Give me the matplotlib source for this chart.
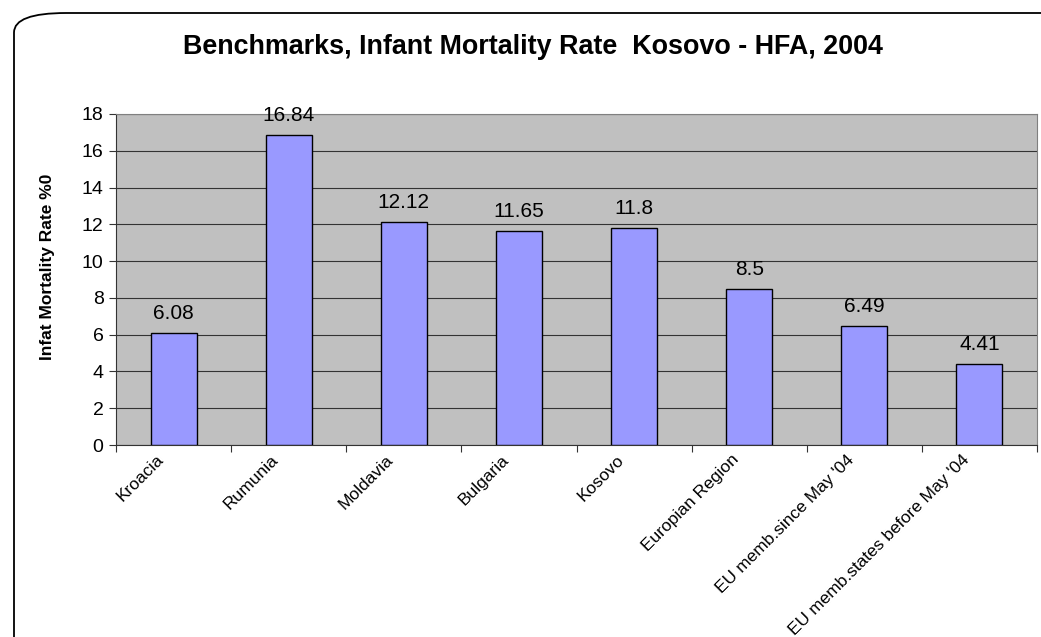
import matplotlib.pyplot as plt
import matplotlib.transforms as mtransforms
from matplotlib.patches import FancyBboxPatch

categories = ['Kroacia', 'Rumunia', 'Moldavia', 'Bulgaria', 'Kosovo',
              'Europian Region', "EU memb.since May '04",
              "EU memb.states before May '04"]
values = [6.08, 16.84, 12.12, 11.65, 11.8, 8.5, 6.49, 4.41]
value_labels = ['6.08', '16.84', '12.12', '11.65', '11.8', '8.5', '6.49', '4.41']

plt.rcParams['font.family'] = ['Liberation Sans', 'DejaVu Sans']

fig = plt.figure(figsize=(10.41, 6.37), dpi=100)

# rounded frame around the chart
frame = FancyBboxPatch((14 / 1041, -0.2), 1.2, 1 - 13 / 637 + 0.2,
                       boxstyle='round,pad=0,rounding_size=0.05',
                       transform=fig.transFigure, fill=False,
                       edgecolor='black', linewidth=1.3,
                       mutation_aspect=637 / 1041)
fig.patches.append(frame)

ax = fig.add_axes([116 / 1041, 1 - 445 / 637, (1037 - 116) / 1041, (445 - 114) / 637])
ax.set_facecolor('#C0C0C0')

x = range(len(categories))
ax.bar(x, values, width=0.4, color='#9999FF', edgecolor='black', linewidth=1, zorder=3)
for i, v in enumerate(values):
    ax.text(i, v + 0.55, value_labels[i], ha='center', va='bottom', fontsize=15, zorder=4)

ax.set_ylim(0, 18)
ax.set_xlim(-0.5, len(categories) - 0.5)
ax.set_yticks(range(0, 19, 2))
ax.yaxis.grid(True, color='#333333', linewidth=0.8, zorder=0)
ax.set_axisbelow(True)

ax.set_xticks([i + 0.5 for i in range(-1, len(categories))], minor=False)
ax.set_xticklabels([])
ax.tick_params(axis='x', length=5, direction='out', color='#333333')
ax.set_xticks(list(x), minor=True)
ax.set_xticklabels(categories, minor=True, rotation=45, ha='right',
                   rotation_mode='anchor', fontsize=12.5)
ax.tick_params(axis='x', which='minor', length=0, pad=5)
shift = mtransforms.ScaledTranslation(-18 / 100, 0, fig.dpi_scale_trans)
for lab in ax.xaxis.get_minorticklabels():
    lab.set_transform(lab.get_transform() + shift)
ax.tick_params(axis='y', length=5, labelsize=14, color='#333333', pad=4)

for s in ['left', 'bottom']:
    ax.spines[s].set_color('#333333')
for s in ['top', 'right']:
    ax.spines[s].set_color('#808080')

fig.text(48 / 1041, 1 - 267 / 637, 'Infat Mortality Rate %0', rotation=90,
         ha='center', va='center', fontsize=12.5, fontweight='bold')

fig.text(533 / 1041, 1 - 47 / 637, 'Benchmarks, Infant Mortality Rate  Kosovo - HFA, 2004',
         ha='center', va='center', fontsize=19.4, fontweight='bold')

fig.savefig('out.png', dpi=100)
